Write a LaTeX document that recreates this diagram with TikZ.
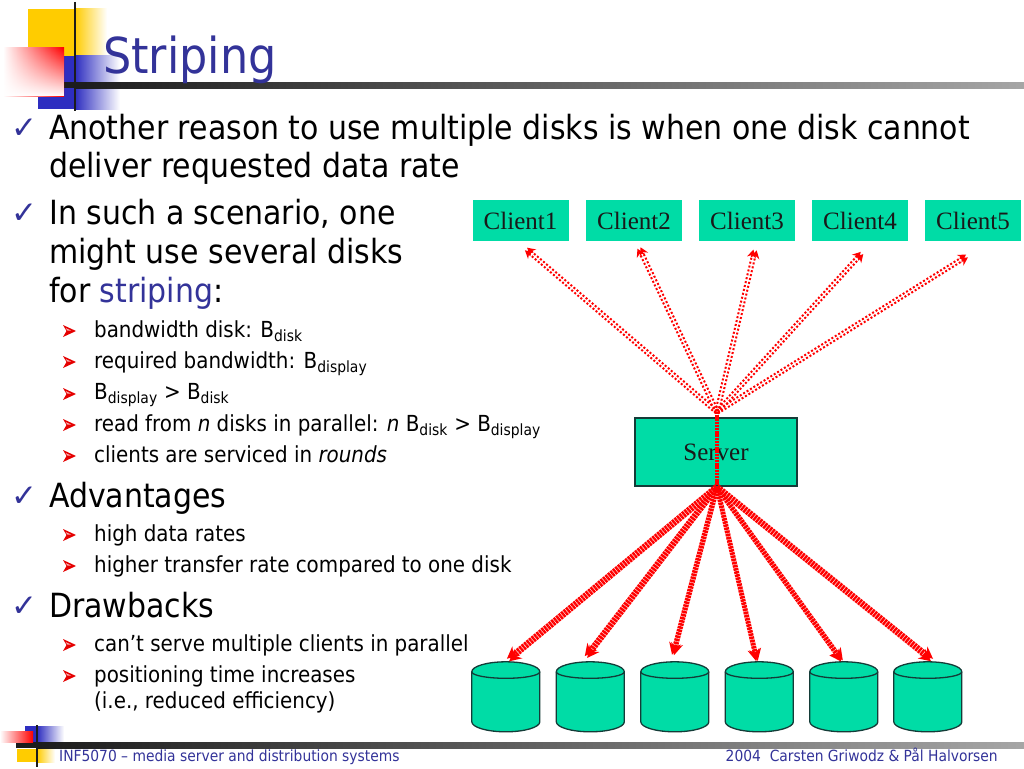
\documentclass[tikz,border=0pt]{standalone}
\usepackage{fontspec}
\setmainfont{DejaVu Sans Condensed}[ItalicFont={DejaVu Sans Condensed Oblique}]
\newfontfamily\serifface{Liberation Serif}
\newfontfamily\symface{DejaVu Sans}
\usetikzlibrary{shapes.geometric,arrows.meta,fadings,calc}
\definecolor{teal1}{HTML}{00DCA6}
\definecolor{edge1}{HTML}{143C38}
\definecolor{titleblue}{HTML}{333399}
\definecolor{decoblue}{HTML}{2E2EC0}
\definecolor{barblack}{HTML}{1C1C1C}
\definecolor{decoyellow}{HTML}{FFCC00}
\newcommand{\fs}[1]{\fontsize{#1}{#1}\selectfont}
\tikzset{
  x=1pt,y=-1pt,
  clientbox/.style={rectangle,fill=teal1,minimum width=96,minimum height=41,inner sep=0,text=black!90,font=\serifface\fs{25}},
  serverbox/.style={rectangle,draw=edge1,line width=1.4,fill=teal1,minimum width=162,minimum height=68,inner sep=0,text=black!90,font=\serifface\fs{25}},
  diskspot/.style={rectangle,minimum width=68,minimum height=70,inner sep=0},
  diskline/.style={draw=edge1,fill=teal1,line width=1.3},
  upline/.style={red,line width=2,dash pattern=on 2 off 2,-{Stealth[length=8,width=9]}},
  downline/.style={red,line width=3.4,dash pattern=on 2.4 off 0.8,-{Stealth[length=12,width=12]}},
  lvlone/.style={anchor=base west,inner sep=0,font=\fs{33.3}},
  lvltwo/.style={anchor=base west,inner sep=0,font=\fs{22.1}},
  tick/.style={anchor=base,inner sep=0,text=titleblue,font=\symface\fs{31}},
}
\newcommand{\bul}[2]{\fill[red!90!black] (#1-7,#2-6) -- (#1+6,#2) -- (#1-7,#2+6) -- (#1-3.5,#2) -- cycle; \fill[white!70!red] (#1-4.5,#2-3) -- (#1+1,#2-.5) -- (#1-2.5,#2-.5) -- cycle;}
\newcommand{\dsub}[1]{\textsubscript{#1}}
\newcommand{\disk}[1]{%
  \draw[diskline] (#1.north west)++(0,10) -- ++(0,50) arc[start angle=180,end angle=360,x radius=34,y radius=-10] -- ++(0,-50) arc[start angle=0,end angle=180,x radius=34,y radius=-10] -- cycle;
  \draw[diskline,fill=none] (#1.north west)++(0,10) arc[start angle=180,end angle=360,x radius=34,y radius=-6.5];}
\begin{document}
\begin{tikzpicture}
\useasboundingbox (0,0) rectangle (1024,768);
\fill[white] (0,0) rectangle (1024,768);
% top decoration
\fill[decoyellow] (28,9) rectangle (75,56);
\shade[left color=decoyellow,right color=white] (75,9) rectangle (107,56);
\fill[decoblue] (38,56) rectangle (75,109);
\shade[left color=decoblue,right color=white] (75,56) rectangle (120,109);
\fill[barblack] (28,82) rectangle (76,88);
\shade[left color=barblack,right color=black!35] (76,82) rectangle (1024,88);
\shade[left color=white,right color=red] (3,48) rectangle (64,96);
\fill[white,path fading=north] (3,48) rectangle (64,96);
\draw[barblack,line width=2] (75,2) -- (75,111);
\node[anchor=base west,inner sep=0,text=titleblue,font=\fs{49.5}] (title) at (103,73) {Striping};
% bottom decoration
\fill[decoyellow] (17,749) rectangle (37,762);
\shade[left color=decoyellow,right color=white] (37,749) rectangle (55,762);
\fill[decoblue] (25,726) rectangle (37,742);
\shade[left color=decoblue,right color=white] (37,726) rectangle (64,742);
\fill[barblack] (16,742) rectangle (38,748);
\shade[left color=barblack,right color=black!35] (38,742) rectangle (1024,748);
\shade[left color=white,right color=red] (0,731) rectangle (33,742);
\draw[barblack,line width=1.2] (37,725) -- (37,767);
\node[anchor=base west,inner sep=0,text=titleblue,font=\fs{15.4}] (foot1) at (59,761) {INF5070 – media server and distribution systems};
\node[anchor=base east,inner sep=0,text=titleblue,font=\fs{15.4}] (foot2) at (998,761) {2004\ \ Carsten Griwodz \& Pål Halvorsen};
% text
\node[tick] (t1) at (24,138) {✓};
\node[lvlone] (a1) at (49,139) {Another reason to use multiple disks is when one disk cannot};
\node[lvlone] (a2) at (49,177) {deliver requested data rate};
\node[tick] (t2) at (24,223) {✓};
\node[lvlone] (b1) at (49,224) {In such a scenario, one};
\node[lvlone] (b2) at (49,263) {might use several disks};
\node[lvlone] (b3) at (49,302) {for {\color{titleblue}striping}:};
\bul{70}{331}
\node[lvltwo] (c1) at (94,337) {bandwidth disk: B\dsub{disk}};
\bul{70}{362}
\node[lvltwo] (c2) at (94,368) {required bandwidth: B\dsub{display}};
\bul{70}{394}
\node[lvltwo] (c3) at (94,399) {B\dsub{display} > B\dsub{disk}};
\bul{70}{425}
\node[lvltwo] (c4) at (94,431) {read from \textit{n} disks in parallel: \textit{n} B\dsub{disk} > B\dsub{display}};
\bul{70}{456}
\node[lvltwo] (c5) at (94,462) {clients are serviced in \textit{rounds}};
\node[tick] (t3) at (24,506) {✓};
\node[lvlone] (d1) at (49,507) {Advantages};
\bul{70}{535}
\node[lvltwo] (e1) at (94,541) {high data rates};
\bul{70}{566}
\node[lvltwo] (e2) at (94,572) {higher transfer rate compared to one disk};
\node[tick] (t4) at (24,616) {✓};
\node[lvlone] (f1) at (49,617) {Drawbacks};
\bul{70}{645}
\node[lvltwo] (g1) at (94,651) {can’t serve multiple clients in parallel};
\bul{70}{676}
\node[lvltwo] (g2) at (94,682) {positioning time increases};
\node[lvltwo] (g3) at (94,708) {(i.e., reduced efficiency)};
% clients
\node[clientbox] (cl1) at (520.5,220.5) {Client1};
\node[clientbox] (cl2) at (634,220.5) {Client2};
\node[clientbox] (cl3) at (747,220.5) {Client3};
\node[clientbox] (cl4) at (860,220.5) {Client4};
\node[clientbox] (cl5) at (973,220.5) {Client5};
\node[serverbox] (srv) at (716,452) {\raisebox{-1.5pt}{Server}};
\foreach \n/\x in {1/506,2/590.5,3/675,4/759.5,5/844,6/928} {
  \node[diskspot] (dk\n) at (\x,697) {};
  \disk{dk\n}
}
% connectors
\coordinate (hubup) at (717,412);
\coordinate (hubdown) at (717,487);
\coordinate (up1) at (526,249);
\coordinate (up2) at (639,248);
\coordinate (up3) at (755,250);
\coordinate (up4) at (862,253);
\coordinate (up5) at (967,256);
\coordinate (dn1) at (508,660);
\coordinate (dn2) at (586,657);
\coordinate (dn3) at (673,655);
\coordinate (dn4) at (757,661);
\coordinate (dn5) at (842,661);
\coordinate (dn6) at (932,660);
\draw[red,line width=4.5,dash pattern=on 2.4 off 0.8] (hubup) -- (hubdown);
\foreach \n in {1,...,5} {
  \draw[upline] ($(hubup)!1.7pt!90:(up\n)$) -- ($(up\n)!1.7pt!-90:(hubup)$);
  \draw[upline] ($(hubup)!1.7pt!-90:(up\n)$) -- ($(up\n)!1.7pt!90:(hubup)$);
}
\foreach \n/\o in {1/1.7,2/1.5,3/1.0,4/0.8,5/1.0,6/1.6} {
  \draw[downline] ($(hubdown)!\o pt!90:(dn\n)$) -- ($(dn\n)!\o pt!-90:(hubdown)$);
  \draw[downline] ($(hubdown)!\o pt!-90:(dn\n)$) -- ($(dn\n)!\o pt!90:(hubdown)$);
}
\end{tikzpicture}
\end{document}
